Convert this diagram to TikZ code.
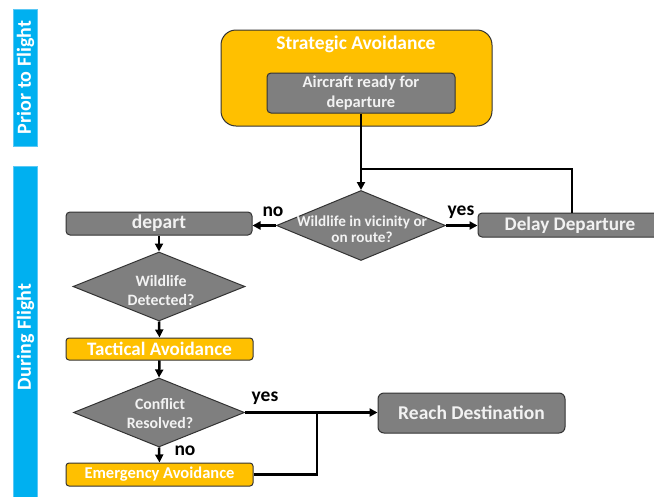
\documentclass[tikz,border=0pt]{standalone}
\usepackage{fontspec}
\setmainfont{Carlito}
\usetikzlibrary{shapes.geometric,arrows.meta,calc}
\definecolor{ylw}{HTML}{FFC000}
\definecolor{gry}{HTML}{7F7F7F}
\definecolor{blu}{HTML}{00B0F0}
\definecolor{bluedge}{HTML}{5BC8F5}
\definecolor{wtxt}{HTML}{F2F2F2}
\begin{document}
\begin{tikzpicture}[x=1pt,y=-1pt,
  graybox/.style={draw=black!80,line width=1pt,fill=gry,rounded corners=4pt,inner sep=0pt,text=wtxt,font=\bfseries},
  ylwbox/.style={draw=black!80,line width=1pt,fill=ylw,rounded corners=3pt,inner sep=0pt,text=white,font=\bfseries},
  dia/.style={diamond,draw=black!80,line width=1pt,fill=gry,inner sep=0pt},
  diatext/.style={text=wtxt,align=center,inner sep=0pt},
  bar/.style={draw=bluedge,line width=1pt,fill=blu,inner sep=0pt},
  bartext/.style={text=white,font=\bfseries\fontsize{20}{22}\selectfont,rotate=90,inner sep=0pt},
  conn/.style={line width=2.5pt,black},
  arr/.style={conn,-{Triangle[length=8pt,width=8pt]}},
  lab/.style={font=\bfseries\fontsize{19.5}{21}\selectfont,text=black,inner sep=0pt}
]
\useasboundingbox (0,0) rectangle (654,496);
\begin{scope}
\clip (0,0) rectangle (654,496);
% side bars
\node[bar,minimum width=24pt,minimum height=137pt] (prior) at (25,77.5) {};
\node[bartext] (priort) at (25.5,77.5) {Prior to Flight};
\node[bar,minimum width=24pt,minimum height=340pt] (during) at (25,336) {};
\node[bartext] (duringt) at (25.5,337) {During Flight};
% strategic box
\node[draw=black!80,line width=1pt,fill=ylw,rounded corners=15pt,minimum width=271pt,minimum height=96pt,inner sep=0pt] (strat) at (356.5,78) {};
\node[text=white,font=\bfseries\fontsize{19.5}{22}\selectfont,inner sep=0pt] (stratt) at (356,44) {Strategic Avoidance};
\node[graybox,minimum width=188pt,minimum height=40pt,align=center,font=\bfseries\fontsize{16.5}{20}\selectfont] (ready) at (361,93) {Aircraft ready for\\departure};
% decision 1
\node[dia,minimum width=169pt,minimum height=70pt] (d1) at (361,225.5) {};
\node[diatext,font=\bfseries\fontsize{15.2}{16.5}\selectfont] (d1t) at (362,229) {Wildlife in vicinity or\\on route?};
% depart & delay
\node[graybox,minimum width=186pt,minimum height=23pt,font=\bfseries\fontsize{19.5}{22}\selectfont] (depart) at (159,223.5) {depart};
\node[graybox,minimum width=184pt,minimum height=24pt,font=\bfseries\fontsize{19.2}{22}\selectfont] (delay) at (570,225) {Delay Departure};
% decision 2
\node[dia,minimum width=172pt,minimum height=69pt] (d2) at (159,286.5) {};
\node[diatext,font=\bfseries\fontsize{15.8}{19}\selectfont] (d2t) at (161,291) {Wildlife\\Detected?};
% tactical
\node[ylwbox,minimum width=187pt,minimum height=22pt,font=\bfseries\fontsize{19}{21}\selectfont] (tact) at (159.5,349) {Tactical Avoidance};
% decision 3
\node[dia,minimum width=171pt,minimum height=69pt] (d3) at (159,412.5) {};
\node[diatext,font=\bfseries\fontsize{15.8}{19}\selectfont] (d3t) at (160,413.5) {Conflict\\Resolved?};
% emergency
\node[ylwbox,minimum width=187pt,minimum height=23pt,font=\bfseries\fontsize{16.5}{19}\selectfont] (emerg) at (159.5,474.5) {Emergency Avoidance};
% reach
\node[graybox,minimum width=187pt,minimum height=40pt,rounded corners=6pt,font=\bfseries\fontsize{19.5}{22}\selectfont] (reach) at (471.5,413) {Reach Destination};
% connectors
\coordinate (merge) at (361,169);
\coordinate (jn) at (317,412.5);
\draw[conn] (ready.south) -- (merge);
\draw[conn] (delay.north -| 572,0) |- (merge);
\draw[arr] (merge) -- (d1.north);
\draw[arr] (d1.west) -- (d1.west -| depart.east);
\draw[arr] (d1.east) -- (d1.east -| delay.west);
\draw[arr] (depart.south) -- (d2.north);
\draw[arr] (d2.south) -- (tact.north);
\draw[arr] (tact.south) -- (d3.north);
\draw[arr] (d3.south) -- (emerg.north);
\draw[arr] (d3.east) -- (d3.east -| reach.west);
\draw[conn] (emerg.east) -| (jn);
% labels
\node[lab] (lno1) at (273,212) {no};
\node[lab] (lyes1) at (461,212) {yes};
\node[lab] (lyes2) at (265,398) {yes};
\node[lab] (lno2) at (185,451) {no};
\end{scope}
\end{tikzpicture}
\end{document}
